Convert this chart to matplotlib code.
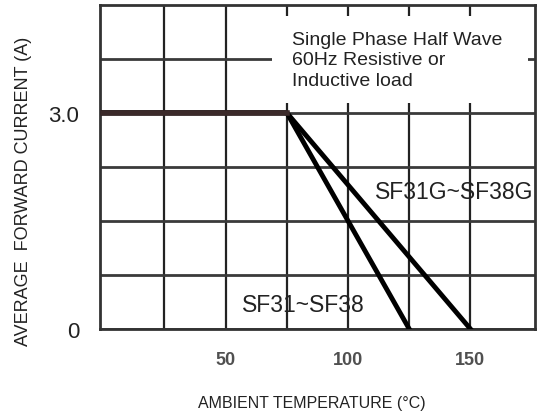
import matplotlib.pyplot as plt
from matplotlib.patches import Rectangle

# derating curves: ambient temp (C) vs average forward current (A)
temp_g = [0, 75, 150]
amps_g = [3.0, 3.0, 0.0]
temp_std = [0, 75, 125]
amps_std = [3.0, 3.0, 0.0]

x_grid = [25, 50, 75, 100, 125, 150]
x_labels = ['', '50', '', '100', '', '150']
y_grid = [0, 0.75, 1.5, 2.25, 3.0, 3.75]
y_labels = ['0', '', '', '', '3.0', '']

plt.rcParams['font.family'] = ['Liberation Sans', 'DejaVu Sans']

fig = plt.figure(figsize=(5.41, 4.14), dpi=100)
ax = fig.add_axes([0.185, 0.203, 0.804, 0.783])
ax.set_xlim(-1.3, 176.4)
ax.set_ylim(0, 4.5)

ax.set_xticks(x_grid)
ax.set_xticklabels(x_labels, fontsize=13, fontweight='bold', color='#505050')
ax.set_yticks(y_grid)
ax.set_yticklabels(y_labels, fontsize=16, color='#222222')
ax.tick_params(axis='x', length=0, pad=16)
ax.tick_params(axis='y', length=0, pad=15)
ax.xaxis.grid(True, color='#222222', linewidth=1.6)
ax.yaxis.grid(True, color='#3a3a3a', linewidth=2)
for s in ax.spines.values():
    s.set_color('#333333')
    s.set_linewidth(2)

# white box behind the note
ax.add_patch(Rectangle((69, 3.13), 104.5, 1.22, facecolor='white', edgecolor='none', zorder=2))
ax.text(77, 4.14, 'Single Phase Half Wave\n60Hz Resistive or\nInductive load',
        fontsize=14, va='top', ha='left', linespacing=1.28, zorder=3, color='#222222')

ax.plot(temp_g, amps_g, color='black', linewidth=3.5, zorder=4)
ax.plot(temp_std, amps_std, color='black', linewidth=3.5, zorder=4)
ax.plot(temp_std[:2], amps_std[:2], color='#3b2a2a', linewidth=4, zorder=5)

ax.text(111, 1.91, 'SF31G~SF38G', fontsize=16.5, va='center', ha='left',
        color='#222222', zorder=6)
ax.text(56.5, 0.34, 'SF31~SF38', fontsize=16.5, va='center', ha='left',
        color='#222222', zorder=6)

ax.set_xlabel('AMBIENT TEMPERATURE (\u00b0C)', fontsize=11.5, color='#222222')
ax.xaxis.set_label_coords(0.487, -0.205)
ax.set_ylabel('AVERAGE  FORWARD CURRENT (A)', fontsize=13, color='#222222')
ax.yaxis.set_label_coords(-0.156, 0.426)

fig.savefig('out.png', dpi=100)
